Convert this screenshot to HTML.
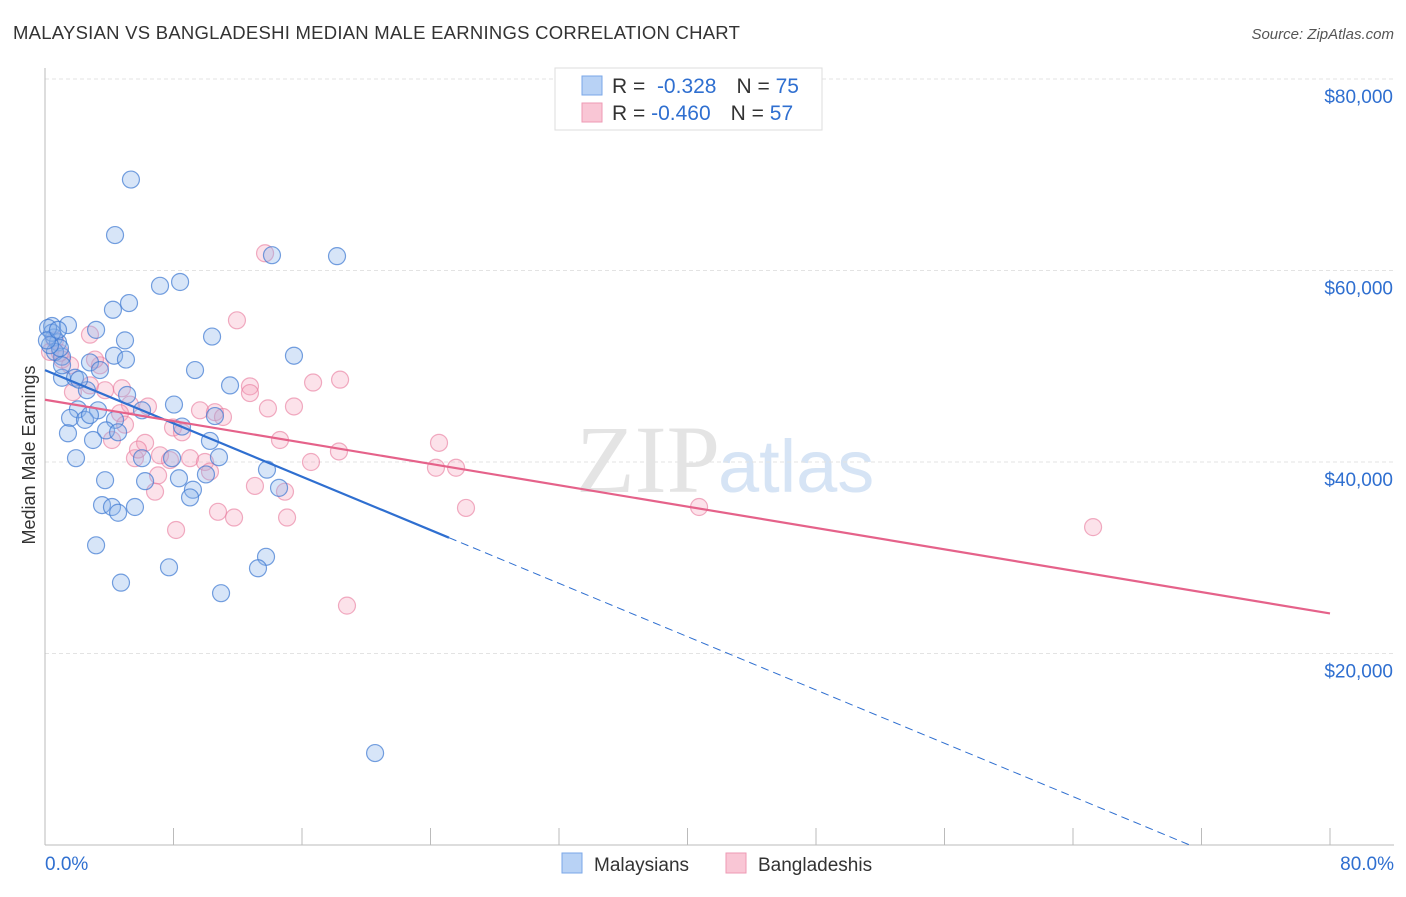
<!DOCTYPE html>
<html><head><meta charset="utf-8"><style>
body{margin:0;background:#fff;font-family:"Liberation Sans",sans-serif}
#wrap{position:relative;width:1406px;height:892px}
</style></head><body>
<div id="wrap">
<svg id="svg" width="1406" height="892" xmlns="http://www.w3.org/2000/svg">
<text x="13" y="39" font-size="18.5" letter-spacing="0.25" fill="#333">MALAYSIAN VS BANGLADESHI MEDIAN MALE EARNINGS CORRELATION CHART</text>
<text x="1394" y="39" font-size="15" fill="#555" font-style="italic" text-anchor="end">Source: ZipAtlas.com</text>
<text x="720" y="492" font-size="96" fill="#e4e4e4" text-anchor="end" font-family="Liberation Serif, serif">ZIP</text>
<text x="718" y="492" font-size="74" fill="#d6e4f5">atlas</text>
<g id="grid"></g><g id="axes"></g><g id="pts"></g><g id="lines"></g>
<text transform="translate(35,455) rotate(-90)" font-size="18" fill="#333" text-anchor="middle">Median Male Earnings</text>
<g>
<rect x="555" y="68" width="267" height="62" fill="#fff" stroke="#ddd"/>
<rect x="582" y="76" width="20" height="19" fill="#b8d2f5" stroke="#7aa7e8"/>
<rect x="582" y="103" width="20" height="19" fill="#f9c6d5" stroke="#ee9ab4"/>
<text x="612" y="93" font-size="21" fill="#333">R = <tspan fill="#2f6fd0">&#160;-0.328</tspan><tspan dx="20">N = </tspan><tspan fill="#2f6fd0">75</tspan></text>
<text x="612" y="120" font-size="21" fill="#333">R = <tspan fill="#2f6fd0">-0.460</tspan><tspan dx="20">N = </tspan><tspan fill="#2f6fd0">57</tspan></text>
</g>
<g>
<rect x="562" y="853" width="20" height="20" fill="#b8d2f5" stroke="#7aa7e8"/>
<text x="594" y="871" font-size="19" fill="#333">Malaysians</text>
<rect x="726" y="853" width="20" height="20" fill="#f9c6d5" stroke="#ee9ab4"/>
<text x="758" y="871" font-size="19" fill="#333">Bangladeshis</text>
</g>
</svg></div>
<script>
const yTicks=[20,40,60,80];
const yTickLabels=["$20,000","$40,000","$60,000","$80,000"];
const xEndLabels=["0.0%","80.0%"];
const malX=[5.35,4.36,14.13,18.18,7.16,8.41,5.23,4.23,10.40,0.44,1.43,3.18,4.98,0.56,0.81,1.06,2.80,4.30,5.04,15.50,9.34,1.06,1.87,2.61,11.52,5.11,2.05,3.30,6.04,8.03,10.58,1.56,2.49,4.36,3.80,4.55,8.53,10.27,1.43,2.99,1.93,6.04,7.91,10.83,13.82,8.34,10.02,3.74,6.23,9.21,9.03,3.55,4.17,5.60,4.55,14.57,3.18,13.76,13.26,7.72,4.73,10.96,20.55,0.44,0.19,0.62,0.93,0.31,2.12,3.42,1.06,0.12,0.81,2.8];
const malY=[69.5,63.7,61.6,61.5,58.4,58.8,56.6,55.9,53.1,54.2,54.3,53.8,52.7,53.0,52.5,51.0,50.4,51.1,50.7,51.1,49.6,48.8,48.8,47.5,48.0,47.0,45.5,45.4,45.4,46.0,44.8,44.6,44.4,44.4,43.3,43.1,43.7,42.2,43.0,42.3,40.4,40.4,40.4,40.5,39.2,38.3,38.7,38.1,38.0,37.1,36.3,35.5,35.3,35.3,34.7,37.3,31.3,30.1,28.9,29.0,27.4,26.3,9.6,53.5,54.0,51.5,51.9,52.2,48.6,49.6,50.1,52.7,53.8,44.9];
const banX=[13.70,11.95,2.80,0.62,0.31,1.06,1.56,3.42,2.80,3.74,5.29,6.41,9.65,10.58,11.08,13.88,15.50,12.76,12.76,16.69,18.37,4.67,4.98,7.97,8.53,4.17,6.23,14.63,7.16,7.78,9.03,9.96,10.27,5.60,5.79,7.04,16.56,18.30,24.53,24.34,25.59,26.21,40.72,65.25,13.07,14.94,6.85,10.77,11.77,15.07,8.16,18.80,1.74,0.93,3.11,4.79];
const banY=[61.8,54.8,53.3,52.7,51.5,50.7,50.1,50.1,48.0,47.5,46.0,45.8,45.4,45.2,44.7,45.6,45.8,47.9,47.2,48.3,48.6,45.1,43.9,43.6,43.1,42.3,42.0,42.3,40.7,40.2,40.4,40.0,39.0,40.4,41.3,38.6,40.0,41.1,42.0,39.4,39.4,35.2,35.3,33.2,37.5,36.9,36.9,34.8,34.2,34.2,32.9,25.0,47.3,51.4,50.7,47.7];
const malTrend=[49.6,-0.696];
const malSolidEnd=25.15;
const banTrend=[46.5,-0.279];
const NS="http://www.w3.org/2000/svg";
const X=v=>45+v*(1285/80);
const Y=v=>845-v*(766/80);
function mk(tag,attrs,parent){const e=document.createElementNS(NS,tag);for(const k in attrs)e.setAttribute(k,attrs[k]);document.getElementById(parent).appendChild(e);return e;}
yTicks.forEach((t,i)=>{
 const g=mk('line',{x1:45,x2:1394,y1:Y(t),y2:Y(t),stroke:'#e3e3e3','stroke-dasharray':'4,3'},'grid');
 
 
 const tx=mk('text',{x:1393,y:Y(t)+24,'font-size':19,fill:'#2f6fd0','text-anchor':'end'},'axes');
 tx.textContent=yTickLabels[i];
 
 
});
const ax=mk('line',{x1:45,x2:45,y1:68,y2:845,stroke:'#bbb'},'axes');


const bx=mk('line',{x1:45,x2:1394,y1:845,y2:845,stroke:'#bbb'},'axes');


for(let i=0;i<=10;i++){
 const tk=mk('line',{x1:X(i*8),x2:X(i*8),y1:828,y2:845,stroke:'#bbb'},'axes');
 
 
}
[[0,'start',45],[1,'end',1394]].forEach(([i,a,x])=>{
 const t=mk('text',{x:x,y:870,'font-size':19,fill:'#2f6fd0','text-anchor':a},'axes');
 t.textContent=xEndLabels[i];
 
 
});
banX.forEach((v,i)=>{
 const c=mk('circle',{cx:X(v),cy:Y(banY[i]),r:8.5,fill:'rgba(246,160,186,0.3)',stroke:'rgba(232,120,155,0.6)','stroke-width':1.2},'pts');
 
 
});
malX.forEach((v,i)=>{
 const c=mk('circle',{cx:X(v),cy:Y(malY[i]),r:8.5,fill:'rgba(140,180,235,0.35)',stroke:'rgba(60,120,210,0.7)','stroke-width':1.2},'pts');
 
 
});
const f=(t,x)=>t[0]+t[1]*x;
const zx=-malTrend[0]/malTrend[1];
let l=mk('line',{x1:X(0),y1:Y(f(malTrend,0)),x2:X(malSolidEnd),y2:Y(f(malTrend,malSolidEnd)),stroke:'#2f6fd0','stroke-width':2.2},'lines');


l=mk('line',{x1:X(malSolidEnd),y1:Y(f(malTrend,malSolidEnd)),x2:X(zx),y2:Y(0),stroke:'#2f6fd0','stroke-width':1,'stroke-dasharray':'8,5'},'lines');


l=mk('line',{x1:X(0),y1:Y(f(banTrend,0)),x2:X(80),y2:Y(f(banTrend,80)),stroke:'#e5628a','stroke-width':2.2},'lines');


</script>
</body></html>
